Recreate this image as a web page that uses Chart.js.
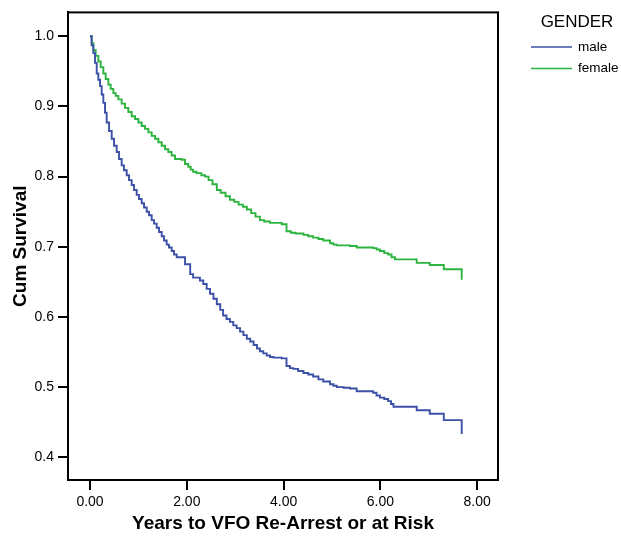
<!DOCTYPE html>
<html>
<head>
<meta charset="utf-8">
<script src="https://cdn.jsdelivr.net/npm/chart.js@4"></script>
<style>
html,body{margin:0;padding:0;background:#fff;}
#wrap{width:621px;height:537px;position:relative;}
</style>
</head>
<body>
<div id="wrap"><canvas id="c" width="621" height="537"></canvas></div>
<script>
const legendTitle = "GENDER";
const seriesNames = ["male", "female"];
const xTickValues = [0, 2, 4, 6, 8];
const yTickValues = [0.4, 0.5, 0.6, 0.7, 0.8, 0.9, 1.0];

const maleTimes = [0, 0.034, 0.069, 0.103, 0.138, 0.172, 0.207, 0.241, 0.275, 0.310, 0.344, 0.393, 0.448, 0.496, 0.551, 0.599, 0.654, 0.702, 0.758, 0.806, 0.861, 0.909, 0.964, 1.012, 1.068, 1.116, 1.171, 1.219, 1.274, 1.322, 1.377, 1.426, 1.481, 1.529, 1.584, 1.632, 1.687, 1.736, 1.791, 1.894, 1.963, 2.07, 2.13, 2.27, 2.34, 2.41, 2.48, 2.55, 2.62, 2.69, 2.75, 2.82, 2.89, 2.96, 3.03, 3.10, 3.17, 3.24, 3.31, 3.38, 3.45, 3.51, 3.58, 3.65, 3.72, 3.79, 3.96, 4.06, 4.13, 4.20, 4.30, 4.41, 4.51, 4.61, 4.72, 4.82, 4.96, 5.03, 5.10, 5.24, 5.37, 5.51, 5.85, 5.92, 5.99, 6.08, 6.16, 6.22, 6.27, 6.75, 7.02, 7.31, 7.68];
const maleSurv  = [1.0, 0.987, 0.976, 0.962, 0.947, 0.938, 0.929, 0.917, 0.905, 0.891, 0.877, 0.865, 0.854, 0.844, 0.835, 0.825, 0.816, 0.809, 0.802, 0.795, 0.788, 0.781, 0.774, 0.768, 0.762, 0.756, 0.750, 0.745, 0.738, 0.733, 0.727, 0.721, 0.715, 0.709, 0.703, 0.699, 0.694, 0.689, 0.685, 0.685, 0.675, 0.661, 0.656, 0.652, 0.647, 0.640, 0.633, 0.626, 0.618, 0.610, 0.602, 0.597, 0.593, 0.588, 0.584, 0.579, 0.574, 0.569, 0.565, 0.560, 0.555, 0.551, 0.548, 0.545, 0.543, 0.542, 0.541, 0.530, 0.527, 0.526, 0.523, 0.520, 0.518, 0.515, 0.511, 0.508, 0.504, 0.502, 0.500, 0.499, 0.498, 0.494, 0.492, 0.488, 0.485, 0.483, 0.480, 0.476, 0.472, 0.467, 0.462, 0.453, 0.433];

const femaleTimes = [0, 0.034, 0.069, 0.117, 0.172, 0.220, 0.275, 0.324, 0.379, 0.427, 0.482, 0.530, 0.585, 0.654, 0.723, 0.792, 0.861, 0.930, 0.999, 1.068, 1.136, 1.205, 1.274, 1.343, 1.412, 1.481, 1.550, 1.618, 1.687, 1.756, 1.894, 1.963, 2.03, 2.08, 2.13, 2.20, 2.30, 2.38, 2.45, 2.53, 2.62, 2.70, 2.80, 2.89, 2.98, 3.07, 3.16, 3.24, 3.33, 3.42, 3.51, 3.60, 3.72, 3.96, 4.06, 4.15, 4.25, 4.41, 4.51, 4.61, 4.72, 4.82, 4.96, 5.03, 5.10, 5.37, 5.51, 5.85, 5.92, 5.99, 6.08, 6.16, 6.23, 6.30, 6.75, 7.02, 7.31, 7.68];
const femaleSurv  = [1.0, 0.990, 0.980, 0.972, 0.964, 0.956, 0.947, 0.939, 0.931, 0.925, 0.919, 0.915, 0.910, 0.904, 0.898, 0.892, 0.886, 0.882, 0.877, 0.872, 0.868, 0.863, 0.858, 0.854, 0.849, 0.844, 0.839, 0.835, 0.830, 0.825, 0.824, 0.818, 0.814, 0.810, 0.807, 0.805, 0.802, 0.800, 0.795, 0.789, 0.781, 0.777, 0.772, 0.767, 0.764, 0.760, 0.757, 0.753, 0.748, 0.743, 0.738, 0.736, 0.734, 0.732, 0.722, 0.720, 0.719, 0.717, 0.715, 0.713, 0.711, 0.709, 0.705, 0.703, 0.702, 0.701, 0.699, 0.698, 0.696, 0.694, 0.691, 0.689, 0.685, 0.682, 0.677, 0.674, 0.668, 0.653];

const colors = ["#3b50a6", "#2cb43e"];
const FONT = "'Liberation Sans', Arial, sans-serif";

function toPts(t, v){ return t.map((x,i)=>({x:x, y:v[i]})); }

const boxPlugin = {
  id: 'box',
  afterDraw(chart){
    const {ctx, chartArea:a} = chart;
    ctx.save();
    ctx.strokeStyle = '#000';
    ctx.lineWidth = 2;
    ctx.strokeRect(a.left, a.top, a.right - a.left, a.bottom - a.top);
    // legend
    ctx.fillStyle = '#000';
    ctx.font = '17px ' + FONT;
    ctx.textAlign = 'center';
    ctx.textBaseline = 'middle';
    ctx.fillText(legendTitle, 577, 22);
    ctx.font = '13.5px ' + FONT;
    ctx.textAlign = 'left';
    chart.data.datasets.forEach((ds, i) => {
      const y = 47 + i * 21.5;
      ctx.strokeStyle = ds.borderColor;
      ctx.lineWidth = 1.5;
      ctx.beginPath();
      ctx.moveTo(531, y);
      ctx.lineTo(572, y);
      ctx.stroke();
      ctx.fillStyle = '#000';
      ctx.fillText(ds.label, 578, y);
    });
    ctx.restore();
  }
};

new Chart(document.getElementById('c'), {
  type: 'line',
  data: {
    datasets: [
      { label: seriesNames[0], data: toPts(maleTimes, maleSurv), borderColor: colors[0], borderWidth: 1.9, pointRadius: 0, stepped: true, fill: false },
      { label: seriesNames[1], data: toPts(femaleTimes, femaleSurv), borderColor: colors[1], borderWidth: 1.9, pointRadius: 0, stepped: true, fill: false }
    ]
  },
  options: {
    responsive: false,
    animation: false,
    devicePixelRatio: 1,
    layout: { padding: { top: 7, right: 123, left: 0, bottom: 0 } },
    plugins: { legend: { display: false }, tooltip: { enabled: false } },
    scales: {
      x: {
        type: 'linear',
        min: -0.455, max: 8.43,
        afterBuildTicks(s){ s.ticks = xTickValues.map(v=>({value:v})); },
        afterFit(s){ s.height = 57; },
        grid: { drawOnChartArea: false, drawTicks: true, tickLength: 10, color: '#000', lineWidth: 2 },
        border: { display: true, color: '#000', width: 2 },
        ticks: { color: '#000', font: { family: FONT, size: 14 }, padding: 4, maxRotation: 0, callback: v => Number(v).toFixed(2) },
        title: { display: true, text: 'Years to VFO Re-Arrest or at Risk', color: '#000', font: { family: FONT, size: 19, weight: 'bold' }, padding: { top: 0, bottom: 2 } }
      },
      y: {
        type: 'linear',
        min: 0.3676, max: 1.034,
        afterBuildTicks(s){ s.ticks = yTickValues.map(v=>({value:v})); },
        afterFit(s){ s.width = 68; },
        grid: { drawOnChartArea: false, drawTicks: true, tickLength: 10, color: '#000', lineWidth: 2 },
        border: { display: true, color: '#000', width: 2 },
        ticks: { color: '#000', font: { family: FONT, size: 14 }, padding: 4, callback: v => Number(v).toFixed(1) },
        title: { display: true, text: 'Cum Survival', color: '#000', font: { family: FONT, size: 19, weight: 'bold' }, padding: { top: 9, bottom: 4 } }
      }
    }
  },
  plugins: [boxPlugin]
});
</script>
</body>
</html>
